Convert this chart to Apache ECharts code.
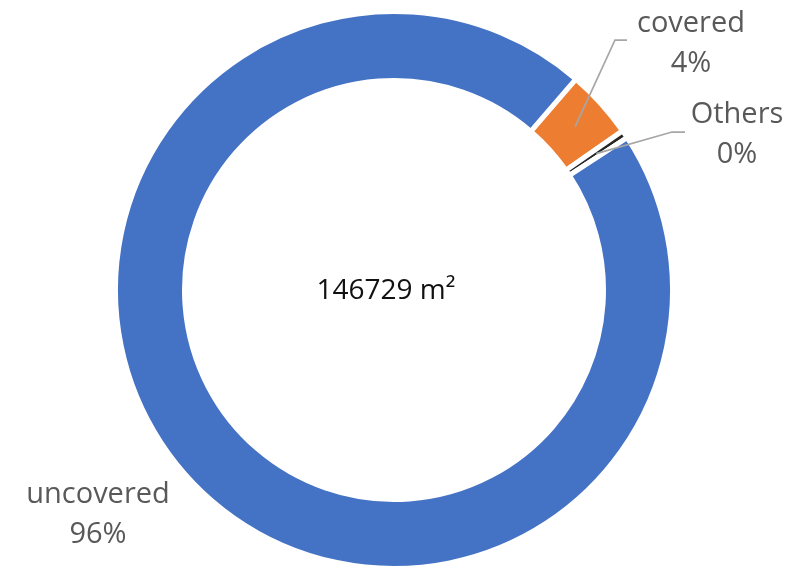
<!DOCTYPE html>
<html>
<head>
<meta charset="utf-8">
<script src="https://cdn.jsdelivr.net/npm/echarts@6/dist/echarts.min.js"></script>
<style>
html,body{margin:0;padding:0;background:#fff;}
#chart{width:792px;height:568px;}
</style>
</head>
<body>
<div id="chart"></div>
<script>
// ---- data ----
const categories = ['covered', 'Others', 'uncovered'];
const values = [5870, 690, 140169];
const totalLabel = '146729 m²';

// ---- styles / layout ----
const sliceColors = ['#ED7D31', '#262626', '#4472C4'];
const center = [394, 290];
const rIn = 212, rOut = 276, border = 5;
const startAngle = 49.25; // echarts degrees (ccw from 3 o'clock)
const labelPos = [
  {x: 691, y: 44, line: [[615, 40], [627, 40]]},
  {x: 737, y: 135, line: [[672, 132], [685, 132]]},
  {x: 98, y: 515, line: null}
];

const total = values.reduce((a, b) => a + b, 0);
function midPoint(i) {
  let before = 0;
  for (let k = 0; k < i; k++) before += values[k];
  const a0 = 90 - startAngle;
  const a = (a0 + (before + values[i] / 2) / total * 360) * Math.PI / 180;
  const r = (rIn + rOut) / 2;
  return [center[0] + r * Math.sin(a), center[1] - r * Math.cos(a)];
}

const leaderLines = [];
labelPos.forEach((p, i) => {
  if (!p.line) return;
  leaderLines.push({
    type: 'polyline',
    z: 100,
    shape: {points: [midPoint(i), p.line[0], p.line[1]]},
    style: {stroke: '#A6A6A6', lineWidth: 1.75, fill: null}
  });
});

const chart = echarts.init(document.getElementById('chart'), null, {renderer: 'canvas'});
chart.setOption({
  animation: false,
  backgroundColor: '#ffffff',
  series: [{
    type: 'pie',
    center: center,
    radius: [rIn - border / 2, rOut + border / 2],
    startAngle: startAngle,
    clockwise: true,
    avoidLabelOverlap: false,
    percentPrecision: 0,
    data: categories.map((c, i) => ({
      name: c, value: values[i],
      itemStyle: {color: sliceColors[i]}
    })),
    itemStyle: {borderColor: '#ffffff', borderWidth: border},
    label: {
      show: true,
      position: 'outside',
      formatter: '{b}\n{d}%',
      fontFamily: 'Open Sans',
      fontSize: 29,
      lineHeight: 40,
      color: '#595959',
      align: 'center'
    },
    labelLine: {show: false},
    labelLayout: function (params) {
      const p = labelPos[params.dataIndex];
      return {x: p.x, y: p.y, align: 'center', verticalAlign: 'middle'};
    }
  }],
  graphic: leaderLines.concat([{
    type: 'text',
    x: 386, y: 291,
    style: {
      text: totalLabel,
      fontFamily: 'Open Sans',
      fontSize: 28,
      fill: '#111111',
      align: 'center',
      verticalAlign: 'middle'
    }
  }])
});
</script>
</body>
</html>
